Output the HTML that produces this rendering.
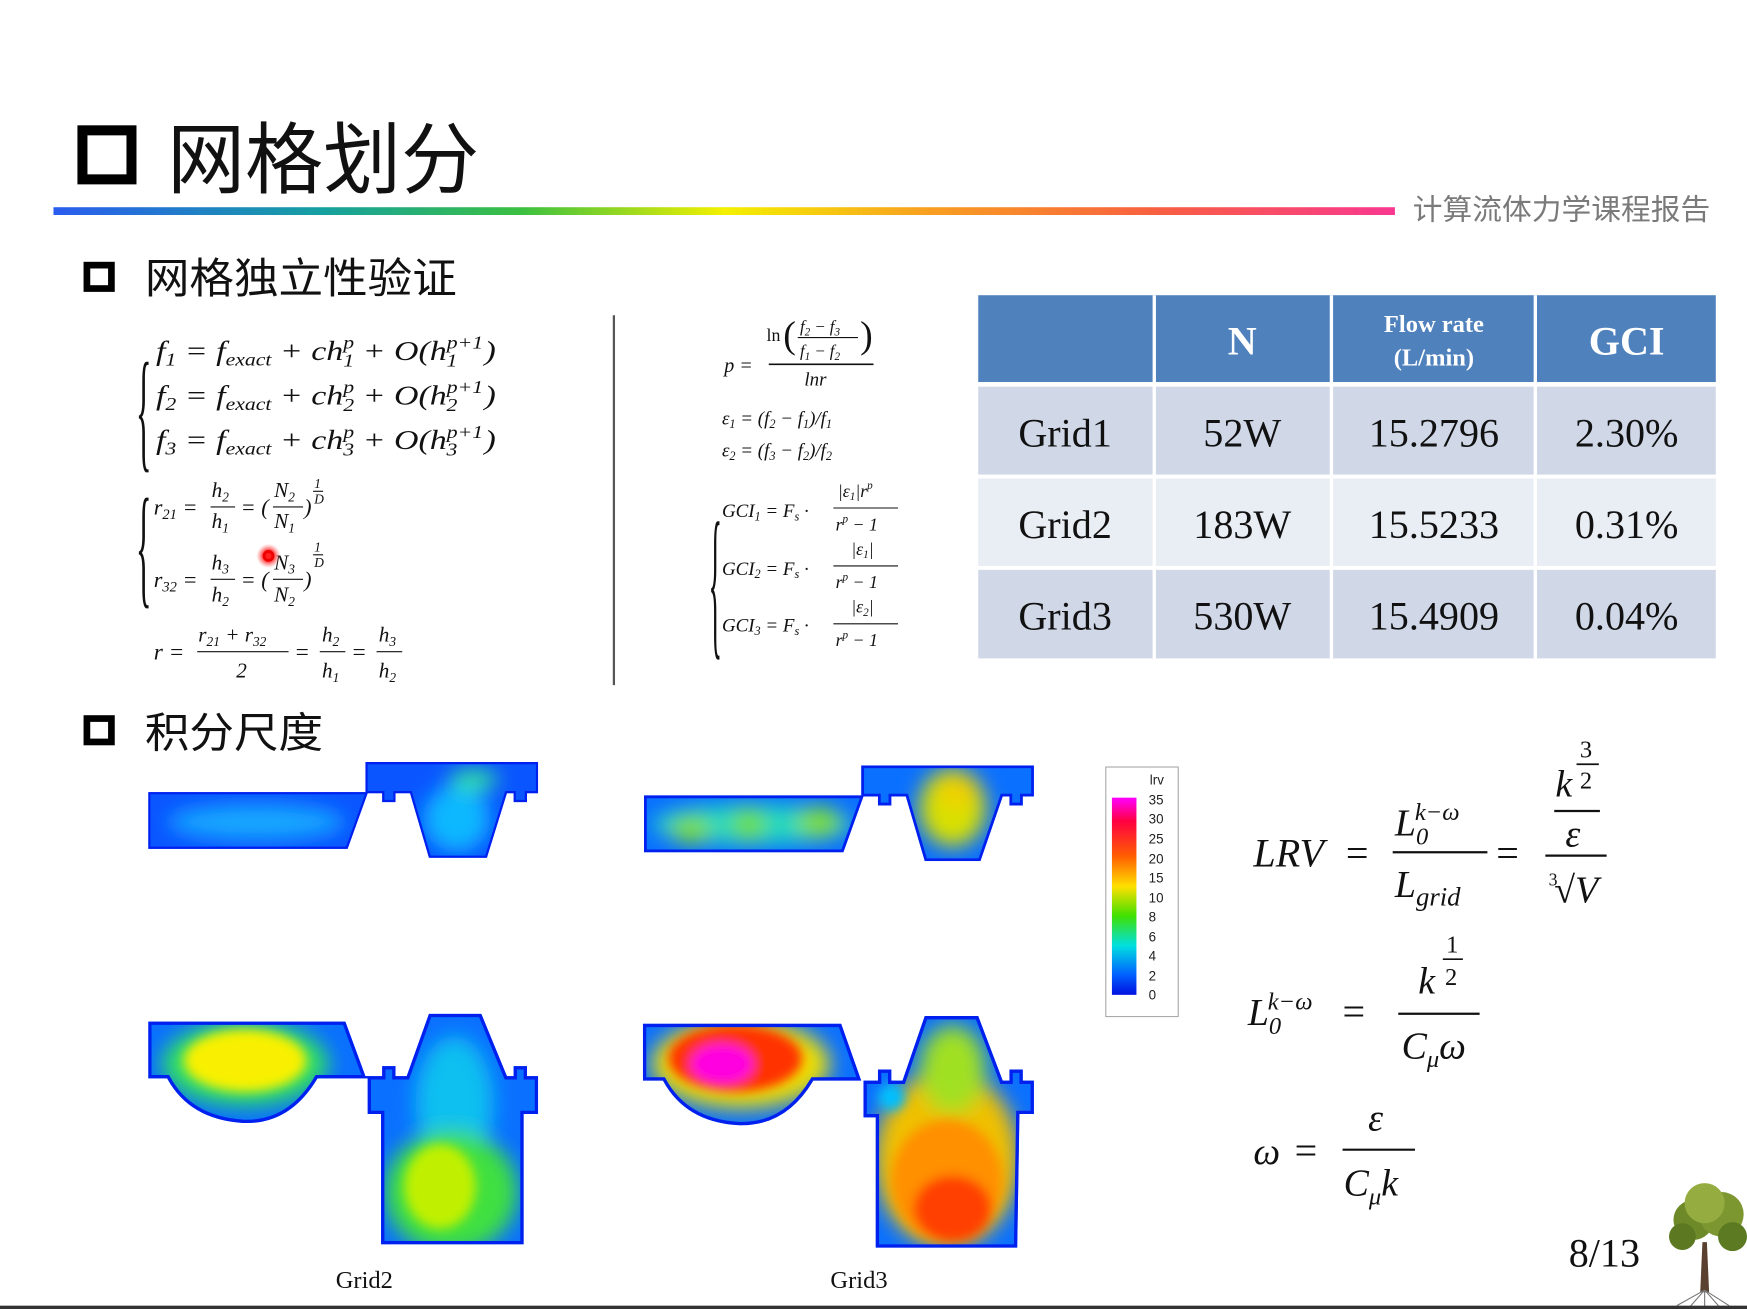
<!DOCTYPE html>
<html><head><meta charset="utf-8"><style>
html,body{margin:0;padding:0;background:#fff}
svg{display:block}
.cj{font-family:"Liberation Sans","Noto Sans CJK SC",sans-serif}
.m{font-family:"Liberation Serif","DejaVu Serif",serif;font-style:italic;fill:#111}
.t{font-family:"Liberation Serif",serif;fill:#111}
</style></head><body>
<svg width="1747" height="1309" viewBox="0 0 1568 1175" preserveAspectRatio="none">
<defs>
<linearGradient id="rb" x1="0" x2="1" y1="0" y2="0">
<stop offset="0" stop-color="#2b5cf0"/><stop offset="0.2" stop-color="#16a0a0"/><stop offset="0.35" stop-color="#3cc040"/>
<stop offset="0.5" stop-color="#f4f000"/><stop offset="0.65" stop-color="#f8a020"/><stop offset="0.82" stop-color="#f86040"/><stop offset="1" stop-color="#f83890"/></linearGradient>
<linearGradient id="cb" x1="0" x2="0" y1="0" y2="1">
<stop offset="0" stop-color="#ff00ff"/><stop offset="0.12" stop-color="#ff0040"/><stop offset="0.3" stop-color="#ff6000"/><stop offset="0.45" stop-color="#ffe000"/>
<stop offset="0.6" stop-color="#40e000"/><stop offset="0.75" stop-color="#00e0e0"/><stop offset="0.9" stop-color="#0060ff"/><stop offset="1" stop-color="#0010e0"/></linearGradient>
<filter id="bl" x="-50%" y="-50%" width="200%" height="200%"><feGaussianBlur stdDeviation="9"/></filter>
<filter id="bl2" x="-50%" y="-50%" width="200%" height="200%"><feGaussianBlur stdDeviation="5"/></filter>
<radialGradient id="dot"><stop offset="0.4" stop-color="#ff2020"/><stop offset="1" stop-color="#ff8080" stop-opacity="0"/></radialGradient>
<path id="s1" d="M133 711 H328 V684 H483 V712 H473 V720 H461 V712 H455 L437 770 H385 L368 712 H355 V720 H343 V712 H330 L312 762 H133 Z"/>
<path id="s2" d="M578 714 H773 V687 H928 V715 H918 V723 H906 V715 H900 L880 773 H830 L813 715 H800 V723 H788 V715 H775 L757 765 H578 Z"/>
<path id="s3" d="M133 917 H310 L328 966 H343 V957 H355 V966 H365 L385 910 H432 L455 966 H461 V957 H473 V966 H483 V1000 H470 L470 1117 H342 V1000 H330 V968 H285 Q260 1010 218 1008 Q170 1005 150 968 H133 Z"/>
<path id="s4" d="M577 919 H755 L773 970 H788 V960 H800 V970 H810 L830 912 H878 L900 970 H906 V960 H918 V970 H928 V1000 H915 L913 1120 H786 V1003 H775 V970 H730 Q705 1012 662 1010 Q615 1007 595 970 H577 Z"/>
<clipPath id="c1"><use href="#s1"/></clipPath><clipPath id="c2"><use href="#s2"/></clipPath>
<clipPath id="c3"><use href="#s3"/></clipPath><clipPath id="c4"><use href="#s4"/></clipPath>
</defs>

<rect x="74" y="117" width="44" height="44" fill="none" stroke="#000" stroke-width="9"/>
<text x="150" y="168" class="cj" font-size="70" fill="#111" textLength="280" lengthAdjust="spacingAndGlyphs">网格划分</text>
<rect x="48" y="186" width="1204" height="7" fill="url(#rb)"/>
<text x="1268" y="197" class="cj" font-size="26" fill="#7a7a7a" textLength="267" lengthAdjust="spacingAndGlyphs">计算流体力学课程报告</text>

<rect x="78" y="238" width="22" height="21" fill="none" stroke="#000" stroke-width="6"/>
<text x="130" y="263" class="cj" font-size="38" fill="#111" textLength="280" lengthAdjust="spacingAndGlyphs">网格独立性验证</text>

<g>
<text x="122" y="408" class="t" font-size="120" fill="#111" textLength="14" lengthAdjust="spacingAndGlyphs">{</text>
<text class="m" font-size="25" x="140" y="323" textLength="305" lengthAdjust="spacingAndGlyphs">f<tspan font-size="16" dy="5">1</tspan><tspan dy="-5"> = f</tspan><tspan font-size="16" dy="5">exact</tspan><tspan dy="-5"> + ch</tspan><tspan font-size="16" dy="-10">p</tspan><tspan font-size="16" dx="-8" dy="16">1</tspan><tspan dy="-6"> + O(h</tspan><tspan font-size="16" dy="-10">p+1</tspan><tspan font-size="16" dx="-27" dy="16">1</tspan><tspan dx="20" dy="-6">)</tspan></text>
<text class="m" font-size="25" x="140" y="363" textLength="305" lengthAdjust="spacingAndGlyphs">f<tspan font-size="16" dy="5">2</tspan><tspan dy="-5"> = f</tspan><tspan font-size="16" dy="5">exact</tspan><tspan dy="-5"> + ch</tspan><tspan font-size="16" dy="-10">p</tspan><tspan font-size="16" dx="-8" dy="16">2</tspan><tspan dy="-6"> + O(h</tspan><tspan font-size="16" dy="-10">p+1</tspan><tspan font-size="16" dx="-27" dy="16">2</tspan><tspan dx="20" dy="-6">)</tspan></text>
<text class="m" font-size="25" x="140" y="403" textLength="305" lengthAdjust="spacingAndGlyphs">f<tspan font-size="16" dy="5">3</tspan><tspan dy="-5"> = f</tspan><tspan font-size="16" dy="5">exact</tspan><tspan dy="-5"> + ch</tspan><tspan font-size="16" dy="-10">p</tspan><tspan font-size="16" dx="-8" dy="16">3</tspan><tspan dy="-6"> + O(h</tspan><tspan font-size="16" dy="-10">p+1</tspan><tspan font-size="16" dx="-27" dy="16">3</tspan><tspan dx="20" dy="-6">)</tspan></text>
</g>

<g>
<text x="122" y="530" class="t" font-size="120" fill="#111" textLength="14" lengthAdjust="spacingAndGlyphs">{</text>
<text class="m" font-size="20" x="138" y="462">r<tspan font-size="13" dy="4">21</tspan><tspan dy="-4"> =</tspan></text>
<text class="m" font-size="19" x="190" y="446">h<tspan font-size="12" dy="4">2</tspan></text><line x1="189" y1="455" x2="211" y2="455" stroke="#111"/>
<text class="m" font-size="19" x="190" y="474">h<tspan font-size="12" dy="4">1</tspan></text>
<text class="m" font-size="20" x="216" y="462">= (</text><text class="m" font-size="19" x="246" y="446">N<tspan font-size="12" dy="4">2</tspan></text><line x1="245" y1="455" x2="272" y2="455" stroke="#111"/><text class="m" font-size="19" x="246" y="474">N<tspan font-size="12" dy="4">1</tspan></text><text class="m" font-size="20" x="273" y="462">)</text>
<text class="m" font-size="12" x="282" y="438">1</text><line x1="281" y1="441" x2="290" y2="441" stroke="#111"/><text class="m" font-size="12" x="282" y="452">D</text>
<text class="m" font-size="20" x="138" y="527">r<tspan font-size="13" dy="4">32</tspan><tspan dy="-4"> =</tspan></text>
<text class="m" font-size="19" x="190" y="511">h<tspan font-size="12" dy="4">3</tspan></text><line x1="189" y1="520" x2="211" y2="520" stroke="#111"/>
<text class="m" font-size="19" x="190" y="540">h<tspan font-size="12" dy="4">2</tspan></text>
<text class="m" font-size="20" x="216" y="527">= (</text><text class="m" font-size="19" x="246" y="511">N<tspan font-size="12" dy="4">3</tspan></text><line x1="245" y1="520" x2="272" y2="520" stroke="#111"/><text class="m" font-size="19" x="246" y="540">N<tspan font-size="12" dy="4">2</tspan></text><text class="m" font-size="20" x="273" y="527">)</text>
<text class="m" font-size="12" x="282" y="495">1</text><line x1="281" y1="498" x2="290" y2="498" stroke="#111"/><text class="m" font-size="12" x="282" y="509">D</text>
<circle cx="241" cy="499" r="11" fill="url(#dot)"/><circle cx="241" cy="499" r="4" fill="none" stroke="#e00" stroke-width="2.5"/>
<text class="m" font-size="21" x="138" y="592">r =</text>
<text class="m" font-size="19" x="178" y="576">r<tspan font-size="12" dy="4">21</tspan><tspan dy="-4"> + r</tspan><tspan font-size="12" dy="4">32</tspan></text><line x1="177" y1="585" x2="259" y2="585" stroke="#111"/>
<text class="m" font-size="19" x="212" y="608" font-style="normal">2</text>
<text class="m" font-size="21" x="264" y="592">=</text><text class="m" font-size="19" x="289" y="576">h<tspan font-size="12" dy="4">2</tspan></text><line x1="287" y1="585" x2="310" y2="585" stroke="#111"/><text class="m" font-size="19" x="289" y="608">h<tspan font-size="12" dy="4">1</tspan></text>
<text class="m" font-size="21" x="315" y="592">=</text><text class="m" font-size="19" x="340" y="576">h<tspan font-size="12" dy="4">3</tspan></text><line x1="338" y1="585" x2="361" y2="585" stroke="#111"/><text class="m" font-size="19" x="340" y="608">h<tspan font-size="12" dy="4">2</tspan></text>
</g>

<line x1="551" y1="283" x2="551" y2="615" stroke="#555" stroke-width="2"/>

<g>
<text class="m" font-size="18" x="650" y="334">p =</text>
<text class="t" font-size="16" x="688" y="306">ln</text><text class="t" font-size="34" x="703" y="312">(</text><text class="t" font-size="34" x="772" y="312">)</text>
<text class="m" font-size="15" x="718" y="298">f<tspan font-size="10" dy="3">2</tspan><tspan dy="-3"> − f</tspan><tspan font-size="10" dy="3">3</tspan></text><line x1="716" y1="303" x2="770" y2="303" stroke="#111"/>
<text class="m" font-size="15" x="718" y="320">f<tspan font-size="10" dy="3">1</tspan><tspan dy="-3"> − f</tspan><tspan font-size="10" dy="3">2</tspan></text>
<line x1="690" y1="327" x2="784" y2="327" stroke="#111" stroke-width="1.5"/>
<text class="m" font-size="17" x="722" y="346">lnr</text>
<text class="m" font-size="17" x="648" y="381">ε<tspan font-size="11" dy="3">1</tspan><tspan dy="-3"> = (f</tspan><tspan font-size="11" dy="3">2</tspan><tspan dy="-3"> − f</tspan><tspan font-size="11" dy="3">1</tspan><tspan dy="-3">)/f</tspan><tspan font-size="11" dy="3">1</tspan></text>
<text class="m" font-size="17" x="648" y="410">ε<tspan font-size="11" dy="3">2</tspan><tspan dy="-3"> = (f</tspan><tspan font-size="11" dy="3">3</tspan><tspan dy="-3"> − f</tspan><tspan font-size="11" dy="3">2</tspan><tspan dy="-3">)/f</tspan><tspan font-size="11" dy="3">2</tspan></text>
<text x="636" y="572" class="t" font-size="150" fill="#111" textLength="12" lengthAdjust="spacingAndGlyphs">{</text>
<text class="m" font-size="17" x="648" y="464">GCI<tspan font-size="11" dy="3">1</tspan><tspan dy="-3"> = F</tspan><tspan font-size="11" dy="3">s</tspan><tspan dy="-3"> ·</tspan></text>
<text class="m" font-size="16" x="752" y="446">|ε<tspan font-size="10" dy="3">1</tspan><tspan dy="-3">|r</tspan><tspan font-size="10" dy="-7">p</tspan></text><line x1="748" y1="456" x2="806" y2="456" stroke="#111"/>
<text class="m" font-size="16" x="750" y="476">r<tspan font-size="10" dy="-7">p</tspan><tspan dy="7"> − 1</tspan></text>
<text class="m" font-size="17" x="648" y="516">GCI<tspan font-size="11" dy="3">2</tspan><tspan dy="-3"> = F</tspan><tspan font-size="11" dy="3">s</tspan><tspan dy="-3"> ·</tspan></text>
<text class="m" font-size="16" x="764" y="498">|ε<tspan font-size="10" dy="3">1</tspan><tspan dy="-3">|</tspan></text><line x1="748" y1="508" x2="806" y2="508" stroke="#111"/>
<text class="m" font-size="16" x="750" y="528">r<tspan font-size="10" dy="-7">p</tspan><tspan dy="7"> − 1</tspan></text>
<text class="m" font-size="17" x="648" y="567">GCI<tspan font-size="11" dy="3">3</tspan><tspan dy="-3"> = F</tspan><tspan font-size="11" dy="3">s</tspan><tspan dy="-3"> ·</tspan></text>
<text class="m" font-size="16" x="764" y="550">|ε<tspan font-size="10" dy="3">2</tspan><tspan dy="-3">|</tspan></text><line x1="748" y1="560" x2="806" y2="560" stroke="#111"/>
<text class="m" font-size="16" x="750" y="580">r<tspan font-size="10" dy="-7">p</tspan><tspan dy="7"> − 1</tspan></text>
</g>

<g>
<rect x="878" y="265" width="662" height="78" fill="#4f81bd"/>
<rect x="878" y="347" width="662" height="79" fill="#d0d8e8"/>
<rect x="878" y="429" width="662" height="79" fill="#e9edf4"/>
<rect x="878" y="511" width="662" height="80" fill="#d0d8e8"/>
<g stroke="#fff" stroke-width="3"><line x1="1036" y1="265" x2="1036" y2="591"/><line x1="1195" y1="265" x2="1195" y2="591"/><line x1="1378" y1="265" x2="1378" y2="591"/>
<line x1="878" y1="345" x2="1540" y2="345" stroke-width="4"/><line x1="878" y1="428" x2="1540" y2="428"/><line x1="878" y1="510" x2="1540" y2="510"/></g>
<g class="t" font-weight="bold" text-anchor="middle">
<text x="1115" y="318" font-size="36" style="fill:#fff">N</text>
<text x="1287" y="298" font-size="22" style="fill:#fff">Flow rate</text>
<text x="1287" y="328" font-size="22" style="fill:#fff">(L/min)</text>
<text x="1460" y="318" font-size="36" style="fill:#fff">GCI</text></g>
<g class="t" font-size="36" text-anchor="middle">
<text x="956" y="401">Grid1</text><text x="1115" y="401">52W</text><text x="1287" y="401">15.2796</text><text x="1460" y="401">2.30%</text>
<text x="956" y="483">Grid2</text><text x="1115" y="483">183W</text><text x="1287" y="483">15.5233</text><text x="1460" y="483">0.31%</text>
<text x="956" y="565">Grid3</text><text x="1115" y="565">530W</text><text x="1287" y="565">15.4909</text><text x="1460" y="565">0.04%</text></g>
</g>

<rect x="78" y="645" width="22" height="21" fill="none" stroke="#000" stroke-width="6"/>
<text x="130" y="671" class="cj" font-size="38" fill="#111" textLength="160" lengthAdjust="spacingAndGlyphs">积分尺度</text>

<g clip-path="url(#c1)">
<use href="#s1" fill="#0a55ff"/>
<g filter="url(#bl)"><ellipse cx="230" cy="738" rx="80" ry="16" fill="#14a8ff"/><ellipse cx="410" cy="735" rx="30" ry="30" fill="#10b8ff"/><ellipse cx="425" cy="700" rx="22" ry="10" fill="#30e0a0"/></g>
<use href="#s1" fill="none" stroke="#0020f0" stroke-width="4"/></g>
<g clip-path="url(#c2)">
<use href="#s2" fill="#0a70ff"/>
<g filter="url(#bl)"><ellipse cx="675" cy="740" rx="90" ry="18" fill="#20d8c0"/><ellipse cx="620" cy="745" rx="18" ry="12" fill="#80e020"/><ellipse cx="672" cy="740" rx="15" ry="14" fill="#70e030"/><ellipse cx="735" cy="738" rx="20" ry="14" fill="#80e030"/><ellipse cx="855" cy="725" rx="30" ry="35" fill="#d8e000"/><ellipse cx="860" cy="710" rx="20" ry="15" fill="#f0d000"/></g>
<use href="#s2" fill="none" stroke="#0020f0" stroke-width="5"/></g>
<g clip-path="url(#c3)">
<use href="#s3" fill="#0a70ff"/>
<g filter="url(#bl)"><ellipse cx="220" cy="955" rx="75" ry="38" fill="#30e060"/><ellipse cx="408" cy="990" rx="35" ry="60" fill="#10c0f0"/><ellipse cx="405" cy="1070" rx="60" ry="55" fill="#40e040"/></g>
<g filter="url(#bl2)"><ellipse cx="220" cy="952" rx="55" ry="28" fill="#f8f000"/><ellipse cx="395" cy="1065" rx="32" ry="38" fill="#c0f000"/></g>
<use href="#s3" fill="none" stroke="#0020f0" stroke-width="6"/></g>
<g clip-path="url(#c4)">
<use href="#s4" fill="#0a70ff"/>
<g filter="url(#bl)"><ellipse cx="665" cy="955" rx="80" ry="40" fill="#f0e000"/><ellipse cx="850" cy="1040" rx="65" ry="80" fill="#f0c000"/><ellipse cx="855" cy="960" rx="30" ry="40" fill="#a0e020"/></g>
<g filter="url(#bl2)"><ellipse cx="660" cy="950" rx="60" ry="30" fill="#ff3000"/><ellipse cx="850" cy="1060" rx="50" ry="55" fill="#ff9000"/><ellipse cx="855" cy="1085" rx="35" ry="30" fill="#ff4000"/><ellipse cx="648" cy="955" rx="28" ry="18" fill="#ff00e0"/><ellipse cx="800" cy="985" rx="12" ry="12" fill="#00c0ff"/></g>
<use href="#s4" fill="none" stroke="#0020f0" stroke-width="6"/></g>
<text x="327" y="1156" class="t" font-size="22" text-anchor="middle">Grid2</text>
<text x="771" y="1156" class="t" font-size="22" text-anchor="middle">Grid3</text>

<g>
<rect x="992.5" y="688.5" width="65" height="224" fill="#fff" stroke="#aaa"/>
<rect x="998" y="716" width="22" height="177" fill="url(#cb)"/>
<g font-family="Liberation Sans,sans-serif" font-size="12" fill="#222">
<text x="1032" y="704">lrv</text>
<text x="1031" y="722">35</text><text x="1031" y="739">30</text><text x="1031" y="757">25</text><text x="1031" y="775">20</text><text x="1031" y="792">15</text><text x="1031" y="810">10</text>
<text x="1031" y="827">8</text><text x="1031" y="845">6</text><text x="1031" y="862">4</text><text x="1031" y="880">2</text><text x="1031" y="897">0</text></g>
</g>

<g>
<text class="m" font-size="36" x="1125" y="778">LRV</text><text class="t" font-size="36" x="1208" y="778">=</text>
<text class="m" font-size="34" x="1252" y="750">L<tspan font-size="22" dy="8">0</tspan><tspan font-size="22" dx="-12" dy="-22">k−ω</tspan></text>
<line x1="1250" y1="765" x2="1335" y2="765" stroke="#111" stroke-width="2"/>
<text class="m" font-size="34" x="1252" y="805">L<tspan font-size="24" dy="8">grid</tspan></text>
<text class="t" font-size="36" x="1343" y="778">=</text>
<text class="t" font-size="22" x="1418" y="680">3</text><line x1="1415" y1="686" x2="1435" y2="686" stroke="#111" stroke-width="1.5"/><text class="t" font-size="22" x="1418" y="708">2</text>
<text class="m" font-size="34" x="1396" y="715">k</text>
<line x1="1395" y1="728" x2="1436" y2="728" stroke="#111" stroke-width="2"/>
<text class="m" font-size="34" x="1405" y="760">ε</text>
<line x1="1387" y1="768" x2="1442" y2="768" stroke="#111" stroke-width="2"/>
<text class="t" font-size="16" x="1390" y="795">3</text><text class="m" font-size="34" x="1395" y="810">√V</text>
</g>
<g>
<text class="m" font-size="34" x="1120" y="920">L<tspan font-size="22" dy="8">0</tspan><tspan font-size="22" dx="-12" dy="-22">k−ω</tspan></text>
<text class="t" font-size="36" x="1205" y="920">=</text>
<text class="t" font-size="22" x="1298" y="855">1</text><line x1="1295" y1="861" x2="1313" y2="861" stroke="#111" stroke-width="1.5"/><text class="t" font-size="22" x="1297" y="884">2</text>
<text class="m" font-size="34" x="1273" y="892">k</text>
<line x1="1255" y1="910" x2="1328" y2="910" stroke="#111" stroke-width="2"/>
<text class="m" font-size="34" x="1258" y="950">C<tspan font-size="22" dy="8">μ</tspan><tspan dy="-8">ω</tspan></text>
</g>
<g>
<text class="m" font-size="34" x="1125" y="1045">ω</text><text class="t" font-size="36" x="1162" y="1045">=</text>
<text class="m" font-size="34" x="1228" y="1015">ε</text>
<line x1="1205" y1="1032" x2="1270" y2="1032" stroke="#111" stroke-width="2"/>
<text class="m" font-size="34" x="1206" y="1073">C<tspan font-size="22" dy="8">μ</tspan><tspan dy="-8">k</tspan></text>
</g>

<text x="1408" y="1137" class="t" font-size="36">8/13</text>
<g>
<path d="M1528 1115 L1532 1115 L1534 1160 L1526 1160 Z" fill="#5a4030"/>
<g stroke="#777" stroke-width="1" fill="none"><path d="M1530 1158 L1505 1172 M1530 1158 L1552 1172 M1530 1158 L1530 1175 M1530 1158 L1515 1175 M1530 1158 L1545 1175"/></g>
<circle cx="1520" cy="1095" r="18" fill="#6e8a28"/><circle cx="1545" cy="1090" r="20" fill="#7c9630"/><circle cx="1530" cy="1080" r="18" fill="#94ac40"/><circle cx="1510" cy="1110" r="12" fill="#5c7820"/><circle cx="1555" cy="1110" r="13" fill="#5c7a22"/>
</g>
<rect x="0" y="1172" width="1568" height="3" fill="#333"/>
</svg>
</body></html>
